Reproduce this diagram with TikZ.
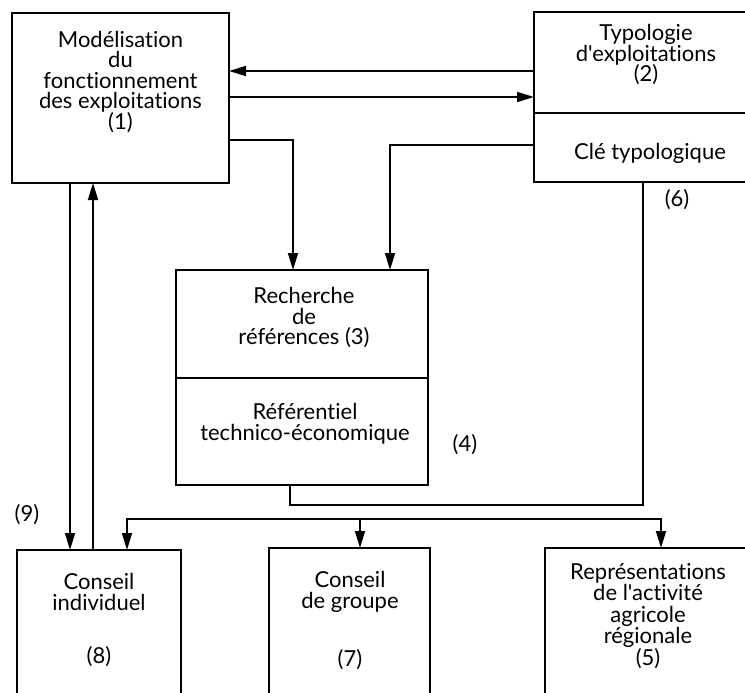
\documentclass[tikz,border=0pt]{standalone}
\usepackage{fontspec}
\setmainfont{Lato}[Ligatures={NoCommon,NoContextual,TeXOff}]
\usetikzlibrary{arrows.meta}
\newcommand\boxfont{\fontsize{22}{20.5}\selectfont\lineskiplimit=-30pt\relax\lineskip=0pt\relax}
\newcommand\widefont{\fontsize{22}{21.5}\selectfont\lineskiplimit=-30pt\relax\lineskip=0pt\relax}
\begin{document}
\begin{tikzpicture}[x=1pt,y=-1pt,
  box/.style={draw, line width=1.4pt, inner sep=0pt, outer sep=0pt},
  txt/.style={align=center, inner sep=0pt, font=\boxfont},
  tip/.tip={Triangle[length=17pt,width=10pt]},
  link/.style={line width=1.8pt, -tip},
  twoway/.style={line width=1.8pt, tip-tip},
  plain/.style={line width=1.8pt},
]
\useasboundingbox (0,0) rectangle (745,693);
\clip (0,0) rectangle (745,693);

% boxes
\node[box, minimum width=217pt, minimum height=170pt] (m)  at (120.5,98) {};
\node[box, minimum width=226pt, minimum height=101pt] (ta) at (647,62.5) {};
\node[box, minimum width=226pt, minimum height=69pt]  (tb) at (647,147.5) {};
\node[box, minimum width=252pt, minimum height=108pt] (ra) at (302,324) {};
\node[box, minimum width=252pt, minimum height=107pt] (rb) at (302,431.5) {};
\node[box, minimum width=164pt, minimum height=160pt] (ci) at (99,630) {};
\node[box, minimum width=161pt, minimum height=160pt] (cg) at (349.5,628) {};
\node[box, minimum width=215pt, minimum height=160pt] (rp) at (652.5,628) {};

% texts
\node[txt] (tm) at (120.5,82) {Modélisation\\du\\fonctionnement\\des exploitations\\(1)};
\node[txt] (tta) at (646,55) {Typologie\\d'exploitations\\(2)};
\node[txt] (ttb) at (650,153) {Clé typologique};
\node[txt] (tra) at (304,318) {Recherche\\de\\références (3)};
\node[txt] (trb) at (305,424) {Référentiel\\technico-économique};
\node[txt] (n4) at (465,445) {(4)};
\node[txt] (n6) at (677,200) {(6)};
\node[txt] (n9) at (27,515) {(9)};
\node[txt] (tci) at (99,592) {Conseil\\individuel};
\node[txt] (n8) at (99,657) {(8)};
\node[txt] (tcg) at (350,592) {Conseil\\de groupe};
\node[txt] (n7) at (350,660) {(7)};
\node[txt, font=\widefont] (trp) at (648,616) {Représentations\\de l'activité\\agricole\\régionale\\(5)};

% junction points
\coordinate (j6) at (643,505);
\coordinate (dl) at (127,519);
\coordinate (dr) at (661,519);
\coordinate (dm) at (360,519);

% connectors between the upper boxes
\draw[link] (ta.west |- 0,71) -- (m.east |- 0,71);
\draw[link] (m.east |- 0,97) -- (ta.west |- 0,97);
\draw[link] (m.east |- 0,140) -| (293,0 |- ra.north);
\draw[link] (tb.west |- 0,145) -| (390,0 |- ra.north);

% key and reference base joined
\draw[plain] (rb.south -| 290,0) |- (j6) -- (tb.south -| j6);

% distribution to the lower boxes
\draw[twoway] (ci.north -| dl) -- (dl) -- (dr) -- (rp.north -| dr);
\draw[link] (dm) -- (cg.north -| dm);

% exchanges with individual advice
\draw[link] (m.south -| 70,0) -- (ci.north -| 70,0);
\draw[link] (ci.north -| 93,0) -- (m.south -| 93,0);
\end{tikzpicture}
\end{document}
